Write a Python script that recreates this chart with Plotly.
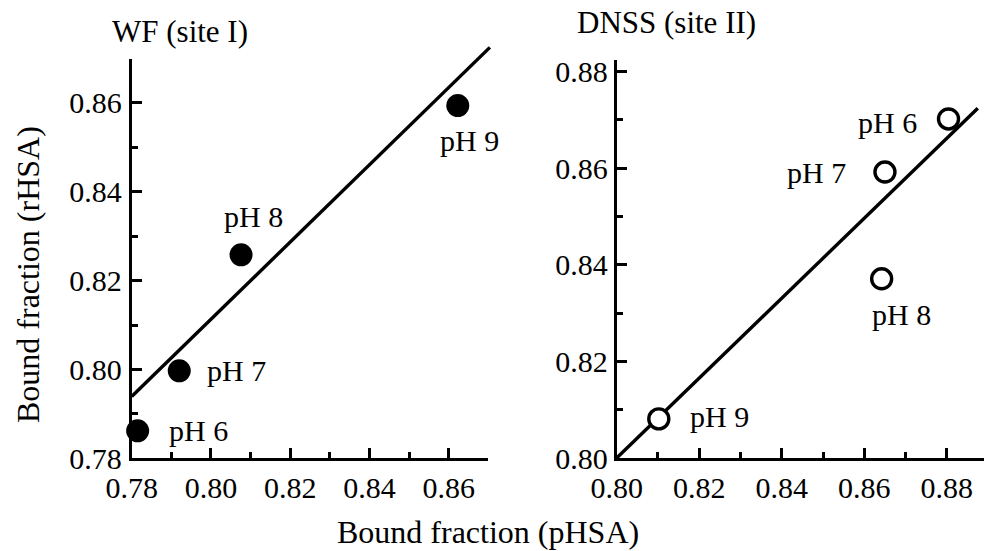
import plotly.graph_objects as go

# ---------------- data ----------------
ph_labels = ["pH 6", "pH 7", "pH 8", "pH 9"]

wf_x = [0.7815, 0.7920, 0.8076, 0.8623]
wf_y = [0.7862, 0.7997, 0.8258, 0.8594]
wf_fit_x = [0.7800, 0.8704]
wf_fit_y = [0.7939, 0.8725]

dnss_x = [0.8804, 0.8650, 0.8642, 0.8102]
dnss_y = [0.8702, 0.8592, 0.8371, 0.8081]
dnss_fit_x = [0.8000, 0.8875]
dnss_fit_y = [0.8000, 0.8724]

left_ticks = [0.78, 0.80, 0.82, 0.84, 0.86]
left_tick_text = ["0.78", "0.80", "0.82", "0.84", "0.86"]
right_ticks = [0.80, 0.82, 0.84, 0.86, 0.88]
right_tick_text = ["0.80", "0.82", "0.84", "0.86", "0.88"]

# ---------------- layout geometry ----------------
W, H = 984, 551
FONT = "Liberation Serif"

L_xr, L_yr = [0.78, 0.87], [0.78, 0.87]
R_xr, R_yr = [0.80, 0.889], [0.80, 0.8824]
L_xd = [131.7 / W, 488.3 / W]
L_yd = [(H - 458.3) / H, (H - 58.5) / H]
R_xd = [616.7 / W, 1.0]
R_yd = [(H - 458.0) / H, (H - 60.0) / H]


def extend(dom, rng, new_hi):
    span = (new_hi - rng[0]) / (rng[1] - rng[0])
    return [dom[0], dom[0] + (dom[1] - dom[0]) * span], [rng[0], new_hi]


Lx3_d, Lx3_r = extend(L_xd, L_xr, 0.873)
Ly3_d, Ly3_r = extend(L_yd, L_yr, 0.874)

fig = go.Figure()

# fit line, left (on extended invisible axes so it may pass the axis end)
fig.add_trace(go.Scatter(x=wf_fit_x, y=wf_fit_y, mode="lines",
                         line=dict(color="black", width=3.4),
                         xaxis="x3", yaxis="y3", hoverinfo="skip"))
fig.add_trace(go.Scatter(x=wf_x, y=wf_y, mode="markers",
                         marker=dict(size=23, color="black", line=dict(width=0)),
                         cliponaxis=False, xaxis="x", yaxis="y"))

fig.add_trace(go.Scatter(x=dnss_fit_x, y=dnss_fit_y, mode="lines",
                         line=dict(color="black", width=3.4),
                         xaxis="x2", yaxis="y2", hoverinfo="skip"))
fig.add_trace(go.Scatter(x=dnss_x, y=dnss_y, mode="markers",
                         marker=dict(size=20, color="white",
                                     line=dict(color="black", width=3.4)),
                         cliponaxis=False, xaxis="x2", yaxis="y2"))

tickfont = dict(family=FONT, size=30, color="black")


def axis(rng, dom, anchor, tickvals, ticktext, minor_start):
    return dict(range=rng, domain=dom, anchor=anchor,
                showline=True, linewidth=3, linecolor="black",
                ticks="inside", ticklen=10, tickwidth=2.5, tickcolor="black",
                tickvals=tickvals, ticktext=ticktext, tickfont=tickfont,
                minor=dict(tick0=minor_start, dtick=0.02, ticks="inside",
                           ticklen=6, tickwidth=2.5, tickcolor="black"),
                showgrid=False, zeroline=False, automargin=False,
                fixedrange=True, layer="above traces")


xa = axis(L_xr, L_xd, "y", left_ticks, left_tick_text, 0.79)
ya = axis(L_yr, L_yd, "x", left_ticks, left_tick_text, 0.79)
xa2 = axis(R_xr, R_xd, "y2", right_ticks, right_tick_text, 0.81)
ya2 = axis(R_yr, R_yd, "x2", right_ticks, right_tick_text, 0.81)
xa["ticklabelstandoff"] = 1
xa2["ticklabelstandoff"] = 1
ya["ticklabelstandoff"] = 1
ya2["ticklabelstandoff"] = 0

annotations = []
label_font = dict(family=FONT, size=30, color="black")
left_off = [(29, 0, "left"), (26, 0, "left"), (12, 38, "center"), (12, -35, "center")]
right_off = [(-30, -4, "right"), (-37, 0, "right"), (20, -36, "center"), (29, 2, "left")]
for lab, x, y, (dx, dy, anc) in zip(ph_labels, wf_x, wf_y, left_off):
    annotations.append(dict(x=x, y=y, xref="x", yref="y", text=lab, showarrow=False,
                            xanchor=anc, yanchor="middle", xshift=dx, yshift=dy,
                            font=label_font))
for lab, x, y, (dx, dy, anc) in zip(ph_labels, dnss_x, dnss_y, right_off):
    annotations.append(dict(x=x, y=y, xref="x2", yref="y2", text=lab, showarrow=False,
                            xanchor=anc, yanchor="middle", xshift=dx, yshift=dy,
                            font=label_font))

title_font = dict(family=FONT, size=31, color="black")
annotations += [
    dict(x=180 / W, y=(H - 32) / H, xref="paper", yref="paper", text="WF (site I)",
         showarrow=False, xanchor="center", yanchor="middle", font=title_font),
    dict(x=666 / W, y=(H - 23) / H, xref="paper", yref="paper", text="DNSS (site II)",
         showarrow=False, xanchor="center", yanchor="middle", font=title_font),
    dict(x=488 / W, y=0, xref="paper", yref="paper",
         text="Bound fraction (pHSA)", showarrow=False, xanchor="center",
         yanchor="bottom", borderpad=0,
         font=dict(family=FONT, size=32, color="black")),
    dict(x=28 / W, y=(H - 275) / H, xref="paper", yref="paper",
         text="Bound fraction (rHSA)", showarrow=False, textangle=-90,
         xanchor="center", yanchor="middle",
         font=dict(family=FONT, size=32, color="black")),
]

fig.update_layout(
    width=W, height=H,
    margin=dict(l=0, r=0, t=0, b=0, pad=0),
    font=dict(family=FONT, color="black"),
    paper_bgcolor="white", plot_bgcolor="rgba(0,0,0,0)",
    showlegend=False,
    xaxis=xa, yaxis=ya, xaxis2=xa2, yaxis2=ya2,
    xaxis3=dict(range=Lx3_r, domain=Lx3_d, anchor="y3", visible=False, fixedrange=True),
    yaxis3=dict(range=Ly3_r, domain=Ly3_d, anchor="x3", visible=False, fixedrange=True),
    annotations=annotations,
)

fig.write_html("out.html", config=dict(displayModeBar=False))
